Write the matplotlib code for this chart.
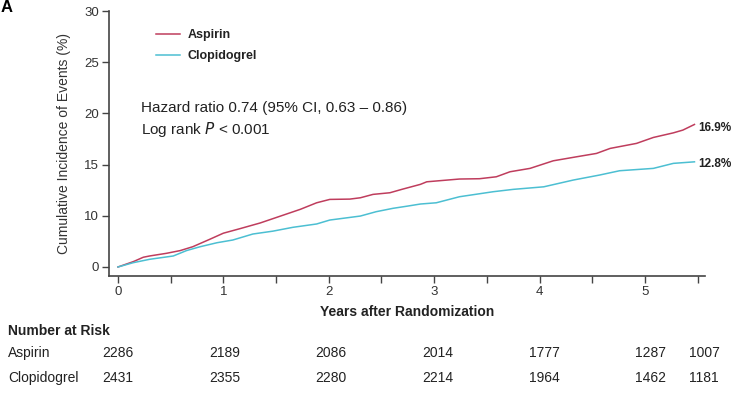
import numpy as np
import matplotlib
matplotlib.use("Agg")
import matplotlib.pyplot as plt
from matplotlib.transforms import blended_transform_factory

plt.rcParams['font.family'] = ['Liberation Sans', 'DejaVu Sans']

# ---- data (y in axis-label units) ----
asp_x = [0, 0.145, 0.24, 0.30, 0.46, 0.59, 0.71, 0.87, 1.0, 1.16, 1.35, 1.57, 1.73, 1.885,
         2.01, 2.2, 2.3, 2.42, 2.58, 2.70, 2.87, 2.93, 3.24, 3.43, 3.59, 3.72, 3.91, 4.13,
         4.35, 4.54, 4.67, 4.92, 5.08, 5.27, 5.36, 5.47]
asp_y = [0, 1.04, 1.9, 2.15, 2.67, 3.2, 3.96, 5.4, 6.6, 7.5, 8.6, 10.07, 10.63, 11.27,
         11.6, 11.63, 11.76, 12.09, 12.25, 12.6, 13.07, 13.32, 13.59, 13.62, 13.81, 14.3,
         14.63, 15.37, 15.76, 16.09, 16.58, 17.07, 17.65, 18.1, 18.37, 18.92]
clo_x = [0, 0.145, 0.30, 0.525, 0.65, 0.78, 0.94, 1.09, 1.28, 1.47, 1.66, 1.885, 2.01,
         2.17, 2.3, 2.45, 2.61, 2.75, 2.87, 3.02, 3.24, 3.56, 3.75, 4.04, 4.32, 4.57, 4.76,
         5.08, 5.27, 5.47]
clo_y = [0, 0.84, 1.5, 2.15, 3.2, 3.96, 4.74, 5.27, 6.44, 7.0, 7.75, 8.4, 9.17,
         9.6, 9.95, 10.4, 10.73, 10.95, 11.15, 11.27, 11.86, 12.35, 12.58, 12.83, 13.49,
         13.98, 14.4, 14.63, 15.12, 15.27]

series_names = ["Aspirin", "Clopidogrel"]
end_labels = ["16.9%", "12.8%"]
risk_times = [0, 1, 2, 3, 4, 5, 5.5]
risk_asp = [2286, 2189, 2086, 2014, 1777, 1287, 1007]
risk_clo = [2431, 2355, 2280, 2214, 1964, 1462, 1181]
yticks = [0, 10, 15, 20, 25, 30]
xticks_major = [0, 1, 2, 3, 4, 5]
xticks_minor = [0.5, 1.5, 2.5, 3.5, 4.5, 5.5]

RED = "#bf3d5d"
CYAN = "#4cbfd2"
TXT = "#222222"

# axis as drawn: 0..10 spans the same height as 10..15
def fwd(v):
    v = np.asarray(v, dtype=float)
    return np.where(v <= 10, v / 2.0, v - 5.0)

def inv(t):
    t = np.asarray(t, dtype=float)
    return np.where(t <= 5, t * 2.0, t + 5.0)

fig = plt.figure(figsize=(7.45, 3.96), dpi=100)
ax = fig.add_axes([109/745, 1 - 276/396, (705-109)/745, (276-11)/396])
ax.set_yscale('function', functions=(fwd, inv))

ax.plot(asp_x, asp_y, color=RED, lw=1.1, label=series_names[0])
ax.plot(clo_x, clo_y, color=CYAN, lw=1.1, label=series_names[1])

ax.set_xlim(-0.085, 5.57)
ax.set_ylim(-1.76, 30)
ax.set_yticks(yticks)
ax.set_yticklabels([str(v) for v in yticks])
ax.set_xticks(xticks_major)
ax.set_xticks(xticks_minor, minor=True)
ax.tick_params(axis='both', which='both', direction='out', length=5, width=1,
               color='#444444', labelsize=9.5, labelcolor='#333333', pad=2)
for s in ['top', 'right']:
    ax.spines[s].set_visible(False)
for s in ['left', 'bottom']:
    ax.spines[s].set_color('#444444')
    ax.spines[s].set_linewidth(1.2)

ax.set_ylabel("Cumulative Incidence of Events (%)", fontsize=10, color='#333333', labelpad=10)
ax.set_xlabel("Years after Randomization", fontsize=10, fontweight='bold', color=TXT, labelpad=5)

leg = ax.legend(loc='upper left', bbox_to_anchor=(0.06, 0.975), frameon=False,
                prop={'weight': 'bold', 'size': 9}, handlelength=1.9, labelspacing=0.75,
                handletextpad=0.6)
for t in leg.get_texts():
    t.set_color(TXT)

ax.text(0.054, 0.634, "Hazard ratio 0.74 (95% CI, 0.63 \u2013 0.86)", transform=ax.transAxes,
        fontsize=11, color=TXT, va='center')
ax.text(0.054, 0.551, "Log rank $\\it{P}$ < 0.001", transform=ax.transAxes,
        fontsize=11, color=TXT, va='center')

# end labels
ax.text(asp_x[-1] + 0.04, asp_y[-1] - 0.3, end_labels[0], fontsize=8.5, fontweight='bold',
        color=TXT, va='center', ha='left', clip_on=False)
ax.text(clo_x[-1] + 0.04, clo_y[-1] - 0.25, end_labels[1], fontsize=8.5, fontweight='bold',
        color=TXT, va='center', ha='left', clip_on=False)

# number at risk table
trans = blended_transform_factory(ax.transData, fig.transFigure)
fig.text(8/745, 1 - 331/396, "Number at Risk", fontsize=10, fontweight='bold', color=TXT, va='center')
fig.text(8/745, 1 - 353/396, series_names[0], fontsize=10, color=TXT, va='center')
fig.text(8/745, 1 - 378/396, series_names[1], fontsize=10, color=TXT, va='center')
for i, t in enumerate(risk_times):
    off = 0.06 * t / 5.5
    ax.text(t + off, 1 - 353/396, str(risk_asp[i]), transform=trans, fontsize=10,
            color=TXT, ha='center', va='center', clip_on=False)
    ax.text(t + off, 1 - 378/396, str(risk_clo[i]), transform=trans, fontsize=10,
            color=TXT, ha='center', va='center', clip_on=False)

fig.text(1/745, 1 - 12/396, "A", fontsize=12, fontweight='bold', color='black', va='baseline')

fig.savefig("out.png", dpi=100)
